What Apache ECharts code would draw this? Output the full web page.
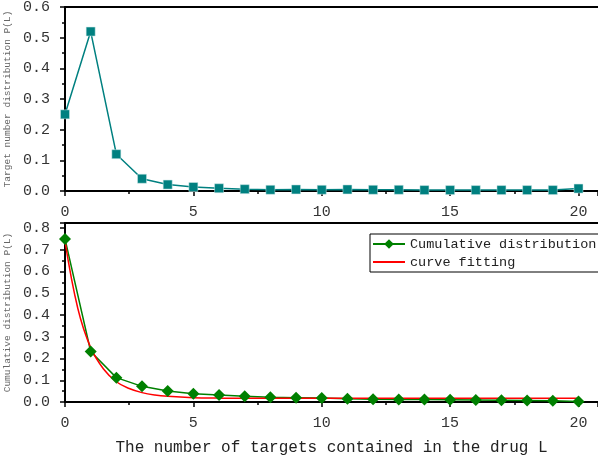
<!DOCTYPE html>
<html>
<head>
<meta charset="utf-8">
<script src="https://cdn.jsdelivr.net/npm/echarts@6/dist/echarts.min.js"></script>
<style>
    html, body { margin: 0; padding: 0; background: #fff; }
    #main { width: 598px; height: 463px; }
</style>
</head>
<body>
<div id="main"></div>
<script>
// target counts L = 0..20
var targetCounts = [0,1,2,3,4,5,6,7,8,9,10,11,12,13,14,15,16,17,18,19,20];
// P(L), top panel
var distValues = [0.25,0.52,0.12,0.04,0.021,0.013,0.009,0.006,0.004,0.005,0.004,0.005,0.004,0.004,0.003,0.003,0.003,0.003,0.003,0.003,0.008];
// cumulative distribution, bottom panel
var cumValues = [0.75,0.232,0.112,0.072,0.051,0.038,0.032,0.026,0.022,0.02,0.018,0.015,0.013,0.012,0.011,0.01,0.009,0.008,0.007,0.006,0.002];
// fitted curve
var fitX = [0,0.5,1,1.5,2,2.5,3,3.5,4,5,6,7,8,10,12,14,16,18,20];
var fitY = [0.74,0.43,0.25,0.152,0.093,0.062,0.043,0.032,0.026,0.02,0.018,0.017,0.017,0.017,0.017,0.017,0.017,0.017,0.017];

var FONT = '"Liberation Mono", monospace';
var XMAX = 20.76;   // the original plot is cut at the right edge

function pairs(xs, ys) {
    var out = [];
    for (var i = 0; i < xs.length; i++) out.push([xs[i], ys[i]]);
    return out;
}

function xAxisOpt(idx, withName) {
    var ax = {
        type: 'value', gridIndex: idx, min: 0, max: XMAX, interval: 5,
        axisLine: { onZero: false, lineStyle: { color: '#000', width: 2 } },
        axisTick: { length: 5, lineStyle: { color: '#000', width: 1.5 } },
        minorTick: { show: true, splitNumber: 2, length: 3, lineStyle: { color: '#000', width: 1.5 } },
        splitLine: { show: false },
        axisLabel: { margin: 14, showMaxLabel: false, color: '#333', fontFamily: FONT, fontSize: 15 }
    };
    if (withName) {
        ax.name = 'The number of targets contained in the drug L';
        ax.nameLocation = 'middle';
        ax.nameGap = 38;
        ax.nameTextStyle = { color: '#222', fontFamily: FONT, fontSize: 16 };
    }
    return ax;
}

// plain top frame line
function topAxisOpt(idx) {
    return {
        type: 'value', gridIndex: idx, position: 'top', min: 0, max: XMAX,
        axisLine: { show: true, onZero: false, lineStyle: { color: '#000', width: 2 } },
        axisTick: { show: false }, axisLabel: { show: false }, splitLine: { show: false }
    };
}

function yAxisOpt(idx, max, name) {
    return {
        type: 'value', gridIndex: idx, min: 0, max: max, interval: 0.1,
        name: name, nameLocation: 'middle', nameGap: 50,
        nameTextStyle: { color: '#666', fontFamily: FONT, fontSize: 9.5 },
        axisLine: { show: true, lineStyle: { color: '#000', width: 2 } },
        axisTick: { show: true, length: 5, lineStyle: { color: '#000', width: 1.5 } },
        minorTick: { show: true, splitNumber: 2, length: 3, lineStyle: { color: '#000', width: 1.5 } },
        splitLine: { show: false },
        axisLabel: {
            margin: 15, showMaxLabel: max === 0.6, color: '#333', fontFamily: FONT, fontSize: 15,
            formatter: function (v) { return v.toFixed(1); }
        }
    };
}

var option = {
    animation: false,
    grid: [
        { left: 65, top: 7, right: 0, height: 184, outerBoundsMode: 'none', containLabel: false },
        { left: 65, top: 223, right: 0, height: 179, outerBoundsMode: 'none', containLabel: false }
    ],
    xAxis: [xAxisOpt(0, false), xAxisOpt(1, true), topAxisOpt(0), topAxisOpt(1)],
    yAxis: [
        yAxisOpt(0, 0.6, 'Target number distribution P(L)'),
        yAxisOpt(1, 0.823, 'Cumulative distribution P(L)')
    ],
    legend: {
        left: 370, top: 234, orient: 'vertical',
        data: [
            { name: 'Cumulative distribution' },
            { name: 'curve fitting', icon: 'path://M0,0 L32,0 L32,2 L0,2 Z' }
        ],
        itemWidth: 32, itemHeight: 12, itemGap: 4,
        padding: [3, 12, 3, 2],
        borderColor: '#000', borderWidth: 1,
        textStyle: { color: '#222', fontFamily: FONT, fontSize: 13.5 }
    },
    series: [
        {
            name: 'P(L)', type: 'line', xAxisIndex: 0, yAxisIndex: 0,
            data: pairs(targetCounts, distValues),
            symbol: 'rect', symbolSize: 9,
            lineStyle: { color: '#008080', width: 1.5 },
            itemStyle: { color: '#008080', borderColor: '#cfe8e8', borderWidth: 0.5 }
        },
        {
            name: 'Cumulative distribution', type: 'line', xAxisIndex: 1, yAxisIndex: 1,
            data: pairs(targetCounts, cumValues),
            symbol: 'diamond', symbolSize: 12,
            lineStyle: { color: '#008000', width: 1.5 },
            itemStyle: { color: '#008000' }
        },
        {
            name: 'curve fitting', type: 'line', xAxisIndex: 1, yAxisIndex: 1,
            data: pairs(fitX, fitY),
            symbol: 'none', smooth: 0.4, z: 3,
            lineStyle: { color: '#ff0000', width: 1.5 },
            itemStyle: { color: '#ff0000' }
        }
    ]
};

echarts.init(document.getElementById('main')).setOption(option);
</script>
</body>
</html>
